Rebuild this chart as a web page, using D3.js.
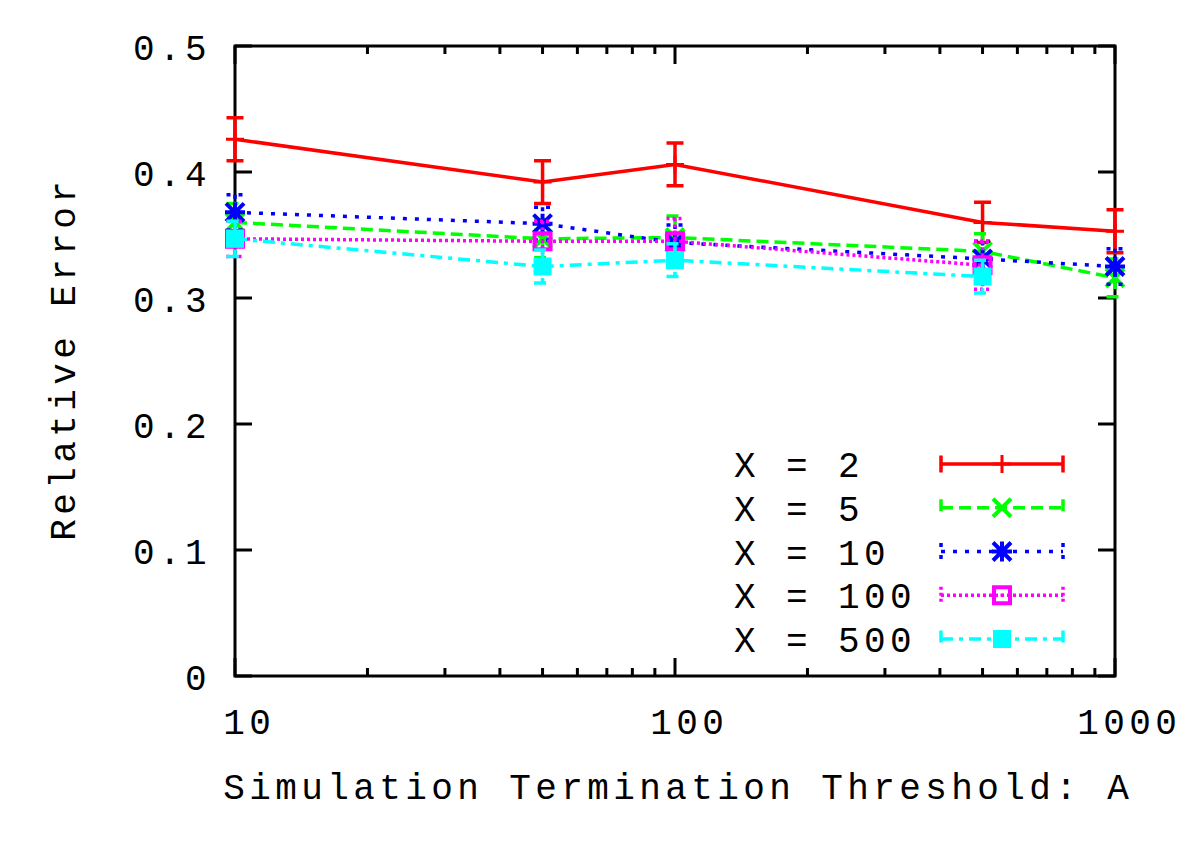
<!DOCTYPE html>
<html>
<head>
<meta charset="utf-8">
<script src="https://cdn.jsdelivr.net/npm/d3@7"></script>
<style>
  body { margin: 0; background: #fff; }
  text { font-family: "Liberation Mono", "DejaVu Sans Mono", monospace; font-size: 36px; letter-spacing: 4.4px; fill: #000; }
</style>
</head>
<body>
<div id="chart"></div>
<script>
// x positions (termination threshold A)
var thresholds = [10, 50, 100, 500, 1000];

// relative error per series, with error bar half-widths
var x2Vals   = [0.426, 0.392, 0.406, 0.360, 0.353];
var x2Err    = [0.017, 0.017, 0.017, 0.016, 0.017];
var x5Vals   = [0.360, 0.347, 0.348, 0.337, 0.316];
var x5Err    = [0.015, 0.015, 0.017, 0.014, 0.015];
var x10Vals  = [0.368, 0.359, 0.344, 0.331, 0.325];
var x10Err   = [0.014, 0.013, 0.014, 0.014, 0.014];
var x100Vals = [0.347, 0.345, 0.345, 0.326];
var x100Err  = [0.014, 0.016, 0.018, 0.019];
var x500Vals = [0.347, 0.325, 0.330, 0.317];
var x500Err  = [0.014, 0.013, 0.013, 0.013];

var seriesNames = ["X = 2", "X = 5", "X = 10", "X = 100", "X = 500"];
var yTicks = [0, 0.1, 0.2, 0.3, 0.4, 0.5];
var xTicks = [10, 100, 1000];

var series = [
    {name: seriesNames[0], vals: x2Vals,   err: x2Err,   color: "#ff0000", dash: null,        mark: "plus"},
    {name: seriesNames[1], vals: x5Vals,   err: x5Err,   color: "#00ff00", dash: "12,6",      mark: "cross"},
    {name: seriesNames[2], vals: x10Vals,  err: x10Err,  color: "#0000ff", dash: "4,8",       mark: "star"},
    {name: seriesNames[3], vals: x100Vals, err: x100Err, color: "#ff00ff", dash: "3,3",       mark: "box"},
    {name: seriesNames[4], vals: x500Vals, err: x500Err, color: "#00ffff", dash: "12,6,4,6",  mark: "fbox"}
];

var width = 1200, height = 852;
var pLeft = 235, pRight = 1115, pTop = 46, pBottom = 676;
var ls = 4.4; // trailing letter spacing, used to re-centre labels

var svg = d3.select("#chart").append("svg")
    .attr("width", width)
    .attr("height", height);

var x = d3.scaleLog().domain([10, 1000]).range([pLeft, pRight]);
var y = d3.scaleLinear().domain([0, 0.5]).range([pBottom, pTop]);

// minor ticks on the log axis
var minor = [];
[10, 100].forEach(function (d) {
    for (var k = 2; k <= 9; k++) minor.push(d * k);
});

// border
svg.append("rect")
    .attr("x", pLeft).attr("y", pTop)
    .attr("width", pRight - pLeft).attr("height", pBottom - pTop)
    .attr("fill", "none").attr("stroke", "#000").attr("stroke-width", 3);

var ticks = svg.append("g").attr("stroke", "#000").attr("stroke-width", 3);
xTicks.forEach(function (d) {
    ticks.append("line").attr("x1", x(d)).attr("x2", x(d)).attr("y1", pBottom).attr("y2", pBottom - 18);
    ticks.append("line").attr("x1", x(d)).attr("x2", x(d)).attr("y1", pTop).attr("y2", pTop + 18);
});
minor.forEach(function (d) {
    ticks.append("line").attr("x1", x(d)).attr("x2", x(d)).attr("y1", pBottom).attr("y2", pBottom - 8);
    ticks.append("line").attr("x1", x(d)).attr("x2", x(d)).attr("y1", pTop).attr("y2", pTop + 8);
});
yTicks.forEach(function (d) {
    ticks.append("line").attr("x1", pLeft).attr("x2", pLeft + 17).attr("y1", y(d)).attr("y2", y(d));
    ticks.append("line").attr("x1", pRight).attr("x2", pRight - 17).attr("y1", y(d)).attr("y2", y(d));
});

// tick labels
svg.selectAll(".ylab").data(yTicks).enter().append("text")
    .attr("x", 211)
    .attr("y", function (d) { return y(d) + 14; })
    .attr("text-anchor", "end")
    .text(function (d) { return d === 0 ? "0" : d3.format(".1f")(d); });

svg.selectAll(".xlab").data(xTicks).enter().append("text")
    .attr("x", function (d) { return x(d) + 12 + ls / 2; })
    .attr("y", 734)
    .attr("text-anchor", "middle")
    .text(function (d) { return d; });

// axis titles
svg.append("text")
    .attr("x", 676 + ls / 2).attr("y", 799)
    .attr("text-anchor", "middle")
    .text("Simulation Termination Threshold: A");

svg.append("text")
    .attr("transform", "translate(75," + (361 - ls / 2) + ") rotate(-90)")
    .attr("text-anchor", "middle")
    .text("Relative Error");

function drawMark(g, type, cx, cy, color) {
    var s = 9;
    if (type === "plus") {
        g.append("path").attr("d", "M" + (cx - s) + "," + cy + "H" + (cx + s) + "M" + cx + "," + (cy - s) + "V" + (cy + s))
            .attr("stroke", color).attr("stroke-width", 3);
    } else if (type === "cross") {
        g.append("path").attr("d", "M" + (cx - s) + "," + (cy - s) + "L" + (cx + s) + "," + (cy + s) +
            "M" + (cx - s) + "," + (cy + s) + "L" + (cx + s) + "," + (cy - s))
            .attr("stroke", color).attr("stroke-width", 4);
    } else if (type === "star") {
        g.append("path").attr("d", "M" + (cx - s) + "," + (cy - s) + "L" + (cx + s) + "," + (cy + s) +
            "M" + (cx - s) + "," + (cy + s) + "L" + (cx + s) + "," + (cy - s) +
            "M" + cx + "," + (cy - s - 1) + "V" + (cy + s + 1) +
            "M" + (cx - s - 1) + "," + cy + "H" + (cx + s + 1))
            .attr("stroke", color).attr("stroke-width", 4);
    } else if (type === "box") {
        g.append("rect").attr("x", cx - 8).attr("y", cy - 8).attr("width", 16).attr("height", 16)
            .attr("fill", "none").attr("stroke", color).attr("stroke-width", 4);
        g.append("rect").attr("x", cx - 1.5).attr("y", cy - 1.5).attr("width", 3).attr("height", 3)
            .attr("fill", color);
    } else if (type === "fbox") {
        g.append("rect").attr("x", cx - 9).attr("y", cy - 9).attr("width", 18).attr("height", 18)
            .attr("fill", color);
    }
}

var line = d3.line()
    .x(function (d) { return x(d.t); })
    .y(function (d) { return y(d.v); });

series.forEach(function (s) {
    var pts = s.vals.map(function (v, i) { return {t: thresholds[i], v: v, e: s.err[i]}; });
    var g = svg.append("g");

    g.append("path")
        .attr("d", line(pts))
        .attr("fill", "none")
        .attr("stroke", s.color)
        .attr("stroke-width", 3.5)
        .attr("stroke-dasharray", s.dash);

    pts.forEach(function (p) {
        var px = x(p.t), y1 = y(p.v + p.e), y2 = y(p.v - p.e);
        g.append("path")
            .attr("d", "M" + px + "," + y1 + "V" + y2 +
                "M" + (px - 8.5) + "," + y1 + "H" + (px + 8.5) +
                "M" + (px - 8.5) + "," + y2 + "H" + (px + 8.5))
            .attr("fill", "none")
            .attr("stroke", s.color)
            .attr("stroke-width", 3.5)
            .attr("stroke-dasharray", s.dash);
        drawMark(g, s.mark, px, y(p.v), s.color);
    });
});

// legend
series.forEach(function (s, i) {
    var by = 477 + i * 43.75;
    var ly = by - 13;
    svg.append("text").attr("x", 734).attr("y", by).text(s.name);
    var g = svg.append("g");
    g.append("path")
        .attr("d", "M941," + ly + "H1063M941," + (ly - 8.5) + "V" + (ly + 8.5) + "M1063," + (ly - 8.5) + "V" + (ly + 8.5))
        .attr("fill", "none")
        .attr("stroke", s.color)
        .attr("stroke-width", 3.5)
        .attr("stroke-dasharray", s.dash);
    drawMark(g, s.mark, 1002, ly, s.color);
});
</script>
</body>
</html>
